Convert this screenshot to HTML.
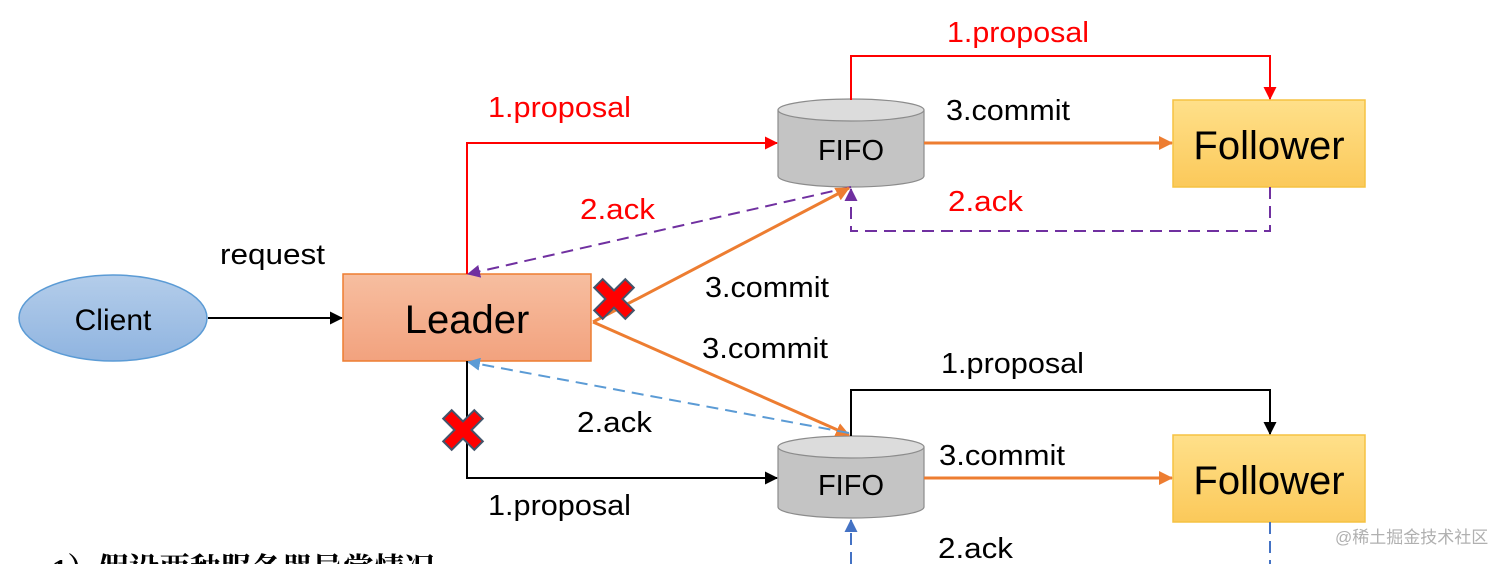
<!DOCTYPE html>
<html><head><meta charset="utf-8"><style>
html,body{margin:0;padding:0;background:#fff;width:1512px;height:564px;overflow:hidden}
svg{display:block}
text{font-family:"Liberation Sans",Arial,sans-serif}
</style></head><body>
<svg width="1512" height="564" viewBox="0 0 1512 564" xmlns="http://www.w3.org/2000/svg">
<defs>
<linearGradient id="gc" x1="0" y1="0" x2="0" y2="1"><stop offset="0" stop-color="#b4cdea"/><stop offset="1" stop-color="#8fb4e0"/></linearGradient>
<linearGradient id="gl" x1="0" y1="0" x2="0" y2="1"><stop offset="0" stop-color="#f7bea0"/><stop offset="1" stop-color="#f2a27e"/></linearGradient>
<linearGradient id="gf" x1="0" y1="0" x2="0" y2="1"><stop offset="0" stop-color="#ffe08a"/><stop offset="1" stop-color="#fbc95a"/></linearGradient>
<marker id="ak" markerWidth="13" markerHeight="13" refX="12" refY="6.5" orient="auto" markerUnits="userSpaceOnUse"><path d="M0,0 L13,6.5 L0,13z" fill="#000"/></marker>
<marker id="ar" markerWidth="13" markerHeight="13" refX="12" refY="6.5" orient="auto" markerUnits="userSpaceOnUse"><path d="M0,0 L13,6.5 L0,13z" fill="#f00"/></marker>
<marker id="ao" markerWidth="14" markerHeight="14" refX="13" refY="7" orient="auto" markerUnits="userSpaceOnUse"><path d="M0,0 L14,7 L0,14z" fill="#ed7d31"/></marker>
<marker id="ap" markerWidth="13" markerHeight="13" refX="12" refY="6.5" orient="auto" markerUnits="userSpaceOnUse"><path d="M0,0 L13,6.5 L0,13z" fill="#7030a0"/></marker>
<marker id="ab" markerWidth="13" markerHeight="13" refX="12" refY="6.5" orient="auto" markerUnits="userSpaceOnUse"><path d="M0,0 L13,6.5 L0,13z" fill="#5b9bd5"/></marker>
<marker id="ab2" markerWidth="13" markerHeight="13" refX="12" refY="6.5" orient="auto" markerUnits="userSpaceOnUse"><path d="M0,0 L13,6.5 L0,13z" fill="#4472c4"/></marker>
</defs>

<ellipse cx="113" cy="318" rx="94" ry="43" fill="url(#gc)" stroke="#5b9bd5" stroke-width="1.5"/>
<text x="113" y="330" font-size="30" text-anchor="middle">Client</text>
<line x1="208" y1="318" x2="342" y2="318" stroke="#000" stroke-width="2" marker-end="url(#ak)"/>
<text x="220" y="264" font-size="29" textLength="105" lengthAdjust="spacingAndGlyphs">request</text>

<rect x="343" y="274" width="248" height="87" fill="url(#gl)" stroke="#ed7d31" stroke-width="1.5"/>
<text x="467" y="333" font-size="40" text-anchor="middle">Leader</text>

<path d="M778,110 L778,176 A73,11 0 0 0 924,176 L924,110" fill="#c4c4c4" stroke="#8c8c8c" stroke-width="1.2"/>
<ellipse cx="851" cy="110" rx="73" ry="11" fill="#dcdcdc" stroke="#8c8c8c" stroke-width="1.2"/>
<text x="851" y="160" font-size="29" text-anchor="middle">FIFO</text>

<path d="M778,447 L778,507 A73,11 0 0 0 924,507 L924,447" fill="#c4c4c4" stroke="#8c8c8c" stroke-width="1.2"/>
<ellipse cx="851" cy="447" rx="73" ry="11" fill="#dcdcdc" stroke="#8c8c8c" stroke-width="1.2"/>
<text x="851" y="495" font-size="29" text-anchor="middle">FIFO</text>

<rect x="1173" y="100" width="192" height="87" fill="url(#gf)" stroke="#f5c242" stroke-width="1.5"/>
<text x="1269" y="159" font-size="40" text-anchor="middle">Follower</text>
<rect x="1173" y="435" width="192" height="87" fill="url(#gf)" stroke="#f5c242" stroke-width="1.5"/>
<text x="1269" y="494" font-size="40" text-anchor="middle">Follower</text>

<polyline points="467,274 467,143 777,143" fill="none" stroke="#f00" stroke-width="2" marker-end="url(#ar)"/>
<text x="488" y="117" font-size="29" fill="#f00" textLength="143" lengthAdjust="spacingAndGlyphs">1.proposal</text>
<polyline points="851,100 851,56 1270,56 1270,99" fill="none" stroke="#f00" stroke-width="2" marker-end="url(#ar)"/>
<text x="947" y="42" font-size="29" fill="#f00" textLength="142" lengthAdjust="spacingAndGlyphs">1.proposal</text>

<line x1="924" y1="143" x2="1172" y2="143" stroke="#ed7d31" stroke-width="3" marker-end="url(#ao)"/>
<text x="946" y="120" font-size="29" textLength="124" lengthAdjust="spacingAndGlyphs">3.commit</text>

<polyline points="1270,187 1270,231 851,231 851,189" fill="none" stroke="#7030a0" stroke-width="2" stroke-dasharray="12,7" marker-end="url(#ap)"/>
<text x="948" y="211" font-size="29" fill="#f00" textLength="75" lengthAdjust="spacingAndGlyphs">2.ack</text>
<line x1="851" y1="187" x2="468" y2="274" stroke="#7030a0" stroke-width="2" stroke-dasharray="12,7" marker-end="url(#ap)"/>
<text x="580" y="219" font-size="29" fill="#f00" textLength="75" lengthAdjust="spacingAndGlyphs">2.ack</text>

<line x1="593" y1="322" x2="849" y2="188" stroke="#ed7d31" stroke-width="3" marker-end="url(#ao)"/>
<text x="705" y="297" font-size="29" textLength="124" lengthAdjust="spacingAndGlyphs">3.commit</text>
<line x1="593" y1="322" x2="849" y2="435" stroke="#ed7d31" stroke-width="3" marker-end="url(#ao)"/>
<text x="702" y="358" font-size="29" textLength="126" lengthAdjust="spacingAndGlyphs">3.commit</text>

<line x1="849" y1="433" x2="468" y2="362" stroke="#5b9bd5" stroke-width="2" stroke-dasharray="12,7" marker-end="url(#ab)"/>
<text x="577" y="432" font-size="29" textLength="75" lengthAdjust="spacingAndGlyphs">2.ack</text>

<polyline points="467,361 467,478 777,478" fill="none" stroke="#000" stroke-width="2" marker-end="url(#ak)"/>
<text x="488" y="515" font-size="29" textLength="143" lengthAdjust="spacingAndGlyphs">1.proposal</text>
<polyline points="851,436 851,390 1270,390 1270,434" fill="none" stroke="#000" stroke-width="2" marker-end="url(#ak)"/>
<text x="941" y="373" font-size="29" textLength="143" lengthAdjust="spacingAndGlyphs">1.proposal</text>

<line x1="924" y1="478" x2="1172" y2="478" stroke="#ed7d31" stroke-width="3" marker-end="url(#ao)"/>
<text x="939" y="465" font-size="29" textLength="126" lengthAdjust="spacingAndGlyphs">3.commit</text>

<line x1="1270" y1="522" x2="1270" y2="564" stroke="#4472c4" stroke-width="2" stroke-dasharray="12,7"/>
<line x1="851" y1="564" x2="851" y2="520" stroke="#4472c4" stroke-width="2" stroke-dasharray="12,7" marker-end="url(#ab2)"/>
<text x="938" y="558" font-size="29" textLength="75" lengthAdjust="spacingAndGlyphs">2.ack</text>

<g transform="translate(614,299) rotate(45)">
<path d="M-6,-22 H6 V-6 H22 V6 H6 V22 H-6 V6 H-22 V-6 H-6z" fill="#f00" stroke="#44546a" stroke-width="2"/>
</g>
<g transform="translate(463,430) rotate(45)">
<path d="M-6,-22 H6 V-6 H22 V6 H6 V22 H-6 V6 H-22 V-6 H-6z" fill="#f00" stroke="#44546a" stroke-width="2"/>
</g>

<text x="52" y="580" font-size="31" font-weight="bold" textLength="383" lengthAdjust="spacingAndGlyphs" style="font-family:'Liberation Serif','Noto Serif CJK SC',serif">1）假设两种服务器异常情况</text>
<text x="1335" y="543" font-size="17" fill="#b0b0b0" style="font-family:'Liberation Sans','Noto Sans CJK SC',sans-serif">@稀土掘金技术社区</text>
</svg>
</body></html>
